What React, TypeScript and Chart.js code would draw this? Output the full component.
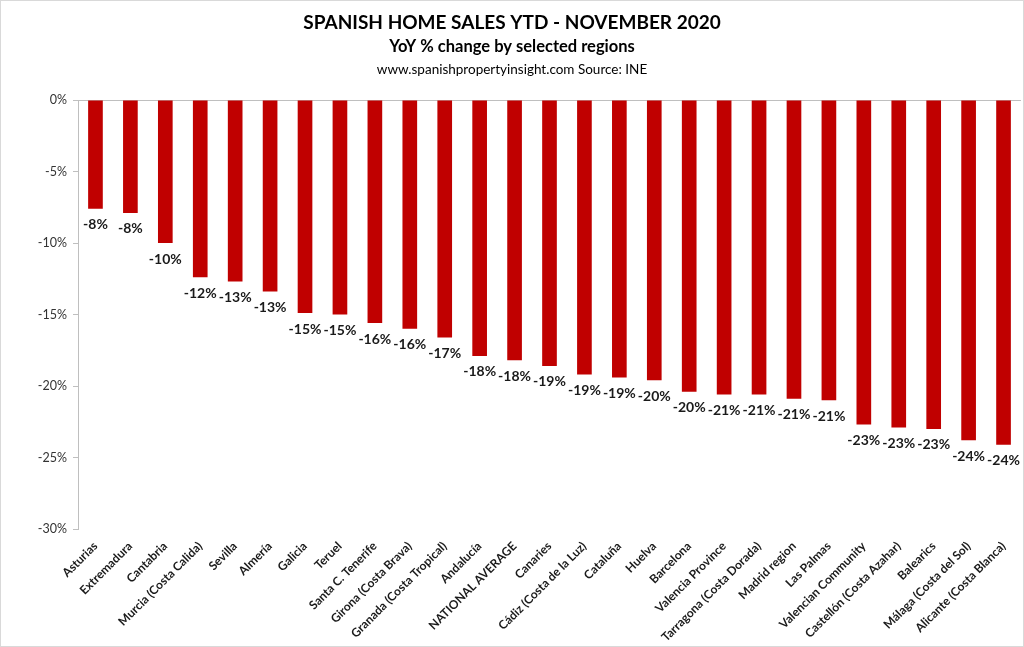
import React, { useEffect, useRef } from "react";
import { Chart, registerables } from "chart.js";

Chart.register(...registerables);

const regions: string[] = [
  "Asturias",
  "Extremadura",
  "Cantabria",
  "Murcia (Costa Calida)",
  "Sevilla",
  "Almería",
  "Galicia",
  "Teruel",
  "Santa C. Tenerife",
  "Girona (Costa Brava)",
  "Granada (Costa Tropical)",
  "Andalucía",
  "NATIONAL AVERAGE",
  "Canaries",
  "Cádiz (Costa de la Luz)",
  "Cataluña",
  "Huelva",
  "Barcelona",
  "Valencia Province",
  "Tarragona (Costa Dorada)",
  "Madrid region",
  "Las Palmas",
  "Valencian Community",
  "Castellón (Costa Azahar)",
  "Balearics",
  "Málaga (Costa del Sol)",
  "Alicante (Costa Blanca)",
];

const yoyChange: number[] = [
  -7.6, -7.9, -10.0, -12.4, -12.7, -13.4, -14.9, -15.0, -15.6, -16.0, -16.6,
  -17.9, -18.2, -18.6, -19.2, -19.4, -19.6, -20.4, -20.6, -20.6, -20.9, -21.0,
  -22.7, -22.9, -23.0, -23.8, -24.1,
];

const titleText = "SPANISH HOME SALES YTD - NOVEMBER 2020";
const subtitleText = "YoY % change by selected regions";
const sourceText = "www.spanishpropertyinsight.com Source: INE";

const FONT = "Lato, 'Open Sans', sans-serif";

const headerPlugin = {
  id: "header",
  afterDraw(chart: any) {
    const { ctx, width, height } = chart;
    ctx.save();
    ctx.textAlign = "center";
    ctx.textBaseline = "middle";
    ctx.fillStyle = "#000";
    ctx.font = `bold 19px ${FONT}`;
    ctx.fillText(titleText, width / 2, 23);
    ctx.font = `bold 16.5px ${FONT}`;
    ctx.fillText(subtitleText, width / 2, 47);
    ctx.font = `13.5px ${FONT}`;
    ctx.fillText(sourceText, width / 2, 70);
    ctx.strokeStyle = "#d9d9d9";
    ctx.lineWidth = 1;
    ctx.strokeRect(0.5, 0.5, width - 1, height - 1);
    ctx.restore();
  },
};

const valueLabelPlugin = {
  id: "valueLabels",
  afterDatasetsDraw(chart: any) {
    const { ctx } = chart;
    const meta = chart.getDatasetMeta(0);
    const data = chart.data.datasets[0].data as number[];
    ctx.save();
    ctx.textAlign = "center";
    ctx.textBaseline = "middle";
    ctx.fillStyle = "#1a1a1a";
    ctx.font = `bold 14px ${FONT}`;
    meta.data.forEach((bar: any, i: number) => {
      ctx.fillText(`${Math.round(data[i])}%`, bar.x, bar.y + 16);
    });
    ctx.restore();
  },
};

export default function App() {
  const canvasRef = useRef<HTMLCanvasElement | null>(null);

  useEffect(() => {
    if (!canvasRef.current) return;
    const chart = new Chart(canvasRef.current, {
      type: "bar",
      data: {
        labels: regions,
        datasets: [
          {
            data: yoyChange,
            backgroundColor: "#C00000",
            borderWidth: 0,
            barPercentage: 0.42,
            categoryPercentage: 1,
          },
        ],
      },
      options: {
        animation: false,
        responsive: true,
        maintainAspectRatio: false,
        layout: { padding: { top: 100, left: 20, right: 3, bottom: 4 } },
        plugins: {
          legend: { display: false },
          tooltip: { enabled: false },
          title: { display: false },
        },
        scales: {
          x: {
            grid: { display: false },
            border: { display: false },
            afterFit: (s: any) => {
              s.height = 114;
            },
            ticks: {
              autoSkip: false,
              maxRotation: 45,
              minRotation: 45,
              color: "#1a1a1a",
              padding: 2,
              font: { family: FONT, size: 12, weight: "bold" },
            },
          },
          y: {
            min: -30,
            max: 0,
            afterFit: (s: any) => {
              s.width = 58;
            },
            border: { display: true, color: "#bfbfbf" },
            grid: {
              color: (c: any) => (c.tick && c.tick.value === 0 ? "#bfbfbf" : "rgba(0,0,0,0)"),
              tickColor: "#bfbfbf",
              tickLength: 5,
              drawTicks: true,
            },
            ticks: {
              stepSize: 5,
              padding: 6,
              color: "#333",
              font: { family: FONT, size: 12.5 },
              callback: (v: any) => `${v}%`,
            },
          },
        },
      },
      plugins: [headerPlugin, valueLabelPlugin],
    });
    return () => chart.destroy();
  }, []);

  return (
    <div style={{ position: "absolute", left: 0, top: 0, width: 1024, height: 647, background: "#fff" }}>
      <canvas ref={canvasRef} />
    </div>
  );
}
